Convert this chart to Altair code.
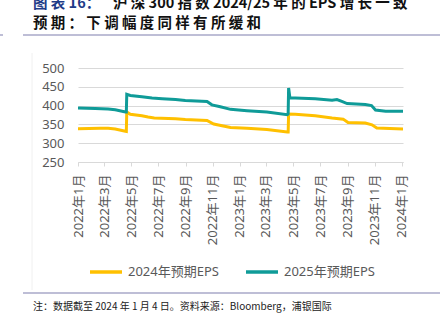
import altair as alt
import pandas as pd

# ---------------- data ----------------
dates_2024 = ["2022-01-01", "2022-02-20", "2022-03-10", "2022-03-26", "2022-04-18", "2022-04-20",
              "2022-04-21", "2022-04-29", "2022-05-25", "2022-06-08", "2022-06-22", "2022-08-09",
              "2022-08-31", "2022-10-19", "2022-11-03", "2022-12-11", "2023-01-17", "2023-03-03",
              "2023-04-18", "2023-04-20", "2023-04-21", "2023-05-06", "2023-06-20", "2023-07-28",
              "2023-08-22", "2023-09-02", "2023-10-11", "2023-10-26", "2023-11-06", "2024-01-04"]
eps_2024 = [338.5, 340, 339.5, 338, 332, 331.5,
            383, 377, 373, 369.5, 367, 365,
            363, 360.5, 351, 342, 339.5, 336.5,
            330, 330, 377.5, 377, 373, 367,
            364, 355, 353.5, 349, 340.5, 338]

dates_2025 = ["2022-01-01", "2022-02-09", "2022-03-10", "2022-03-26", "2022-04-18", "2022-04-20",
              "2022-04-21", "2022-04-29", "2022-05-25", "2022-06-17", "2022-07-10", "2022-08-09",
              "2022-08-31", "2022-10-19", "2022-10-30", "2022-11-18", "2022-12-11", "2023-01-17",
              "2023-03-03", "2023-04-18", "2023-04-20", "2023-04-21", "2023-04-24", "2023-05-06",
              "2023-06-20", "2023-07-28", "2023-08-08", "2023-08-19", "2023-08-31", "2023-10-11",
              "2023-10-25", "2023-11-03", "2023-11-26", "2024-01-04"]
eps_2025 = [393.5, 392, 391, 389, 383, 383,
            430, 427, 423.5, 420, 418, 416,
            413.5, 411, 402, 397, 390, 386.5,
            383, 376, 378, 447, 420, 420,
            418, 414, 416, 411, 405.5, 403,
            400, 388, 385, 385]

series_names = ["2024年预期EPS", "2025年预期EPS"]
series_colors = ["#FFC000", "#0F9B98"]

tick_months = [(2022, 1), (2022, 3), (2022, 5), (2022, 7), (2022, 9), (2022, 11),
               (2023, 1), (2023, 3), (2023, 5), (2023, 7), (2023, 9), (2023, 11), (2024, 1)]
y_ticks = [250, 300, 350, 400, 450, 500]

title_head = "图表 16："
title_rest = "沪深 300 指数 2024/25 年的 EPS 增长一致"
title_line2 = "预期：下调幅度同样有所缓和"
footnote = "注：数据截至 2024 年 1 月 4 日。资料来源：Bloomberg，浦银国际"

# ---------------- build ----------------
df = pd.concat([
    pd.DataFrame({"date": pd.to_datetime(dates_2024), "eps": eps_2024, "series": series_names[0]}),
    pd.DataFrame({"date": pd.to_datetime(dates_2025), "eps": eps_2025, "series": series_names[1]}),
])

FONT = "Noto Sans, Noto Sans CJK SC"
CJK = "Noto Sans CJK SC"
GREY = "#595959"


def spaced(s, sp=" "):
    out = ""
    for i, ch in enumerate(s):
        out += ch
        if i < len(s) - 1 and ord(ch) > 127 and ord(s[i + 1]) > 127:
            out += sp
    return out


lines = alt.Chart(df).mark_line(strokeWidth=3, interpolate="linear").encode(
    x=alt.X("date:T",
            scale=alt.Scale(domain=[alt.DateTime(year=2022, month=1, date=1),
                                    alt.DateTime(year=2024, month=1, date=4)]),
            axis=alt.Axis(values=[alt.DateTime(year=y, month=m, date=1) for y, m in tick_months],
                          format="%Y年%-m月", labelAngle=270, labelFontSize=13, labelColor=GREY,
                          labelFont=FONT, grid=False, domainColor="#D9D9D9", tickColor="#D9D9D9",
                          tickSize=4, labelPadding=8, title=None, labelOverlap=False)),
    y=alt.Y("eps:Q", scale=alt.Scale(domain=[250, 500], nice=False, zero=False),
            axis=alt.Axis(values=y_ticks, ticks=False, domain=False, labelPadding=14,
                          labelFontSize=13, labelColor=GREY, labelFont=FONT,
                          gridColor="#D9D9D9", title=None)),
    color=alt.Color("series:N",
                    scale=alt.Scale(domain=series_names, range=series_colors),
                    legend=alt.Legend(orient="none", legendX=10, legendY=186, direction="horizontal",
                                      title=None, symbolType="stroke", symbolSize=1024,
                                      symbolStrokeWidth=3.5, labelFontSize=13, labelColor=GREY,
                                      labelFont=FONT, columnPadding=20, labelOffset=4, padding=0)),
)


def txt(s, x, y, size, color, weight="normal"):
    return alt.Chart(pd.DataFrame({"t": [s]})).mark_text(
        align="left", baseline="middle", fontSize=size, color=color,
        fontWeight=weight, font=CJK).encode(x=alt.value(x), y=alt.value(y), text="t:N")


def hrule(x1, x2, y, color, w):
    return alt.Chart(pd.DataFrame({"a": [0]})).mark_rule(color=color, strokeWidth=w).encode(
        x=alt.value(x1), x2=alt.value(x2), y=alt.value(y))


def vrule(x, y1, y2, color, w):
    return alt.Chart(pd.DataFrame({"a": [0]})).mark_rule(color=color, strokeWidth=w).encode(
        x=alt.value(x), y=alt.value(y1), y2=alt.value(y2))


layers = [
    vrule(-46, -15, 222, "#F0F0F0", 1),
    lines,
    txt(spaced(title_head), -45, -64, 14.5, "#1F3C88", "bold"),
    txt(spaced(title_rest), 35, -64, 14.5, "#111111", "bold"),
    txt(spaced(title_line2), -45, -44, 14.5, "#111111", "bold"),
    hrule(-55, 362, -33, "#A9A9C9", 1.5),
    hrule(-78, -75, -33, "#A9A9C9", 1.5),
    hrule(-55, 362, 225, "#A9A9C9", 1.5),
    txt(footnote, -45, 239, 10, "#222222"),
]

chart = alt.layer(*layers).properties(
    width=325, height=94,
    padding={"left": 78, "top": 68, "right": 37, "bottom": 165},
    autosize=alt.AutoSizeParams(type="none"),
    background="white",
).configure_view(stroke=None)

chart.save("out.html", embed_options={"renderer": "svg", "actions": False})
